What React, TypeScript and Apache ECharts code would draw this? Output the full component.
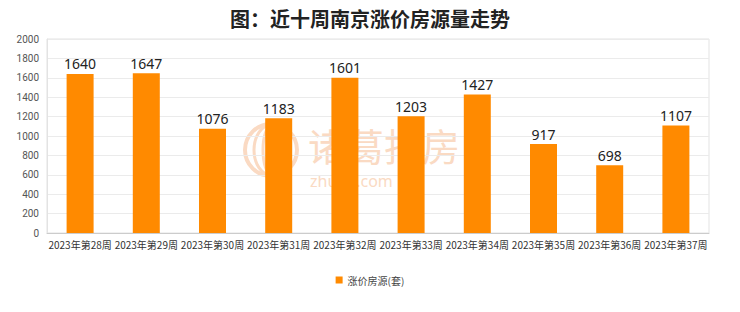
import React, { useEffect, useRef } from "react";
import * as echarts from "echarts";

const categories = [
  "2023年第28周", "2023年第29周", "2023年第30周", "2023年第31周", "2023年第32周",
  "2023年第33周", "2023年第34周", "2023年第35周", "2023年第36周", "2023年第37周",
];
const values = [1640, 1647, 1076, 1183, 1601, 1203, 1427, 917, 698, 1107];
const seriesName = "涨价房源(套)";
const titleText = "图：近十周南京涨价房源量走势";

export default function App() {
  const ref = useRef<HTMLDivElement>(null);
  useEffect(() => {
    if (!ref.current) return;
    const chart = echarts.init(ref.current, undefined, { renderer: "svg" });
    const wm = "#fadac3";
    chart.setOption({
      animation: false,
      backgroundColor: "#fff",
      title: {
        text: titleText,
        left: "center",
        top: 3,
        textStyle: { fontSize: 20, fontWeight: "bold", color: "#222", fontFamily: "Noto Sans CJK SC" },
      },
      grid: {
        left: 47, right: 31, top: 39, bottom: 79,
        show: true, borderColor: "#e3e3e3", borderWidth: 1,
      },
      legend: {
        bottom: 22,
        left: "center",
        itemWidth: 7,
        itemHeight: 7,
        icon: "rect",
        itemGap: 10,
        textStyle: { fontSize: 10, color: "#444", fontFamily: "Noto Sans CJK SC" },
        data: [seriesName],
      },
      graphic: [
        {
          type: "group",
          z: 0,
          silent: true,
          children: [
            { type: "ellipse", shape: { cx: 271, cy: 150, rx: 26, ry: 26 }, style: { fill: "none", stroke: wm, lineWidth: 4 } },
            { type: "ellipse", shape: { cx: 271, cy: 150, rx: 17, ry: 25 }, style: { fill: "none", stroke: wm, lineWidth: 3 } },
            { type: "ellipse", shape: { cx: 271, cy: 150, rx: 8, ry: 24 }, style: { fill: "none", stroke: wm, lineWidth: 3 } },
            { type: "text", x: 308, y: 125, style: { text: "诸葛找房", fontSize: 38, lineHeight: 38, fill: wm, fontFamily: "Noto Sans CJK SC", letterSpacing: 10 } },
            { type: "text", x: 310, y: 173, style: { text: "zhuge.com", fontSize: 16, lineHeight: 16, fill: wm, fontFamily: "Noto Sans", letterSpacing: 12 } },
          ],
        },
      ],
      xAxis: {
        type: "category",
        data: categories,
        axisLine: { lineStyle: { color: "#ccc" } },
        axisTick: { show: false },
        axisLabel: { fontSize: 10, color: "#333", margin: 6, interval: 0, fontFamily: "Noto Sans CJK SC" },
      },
      yAxis: {
        type: "value",
        min: 0,
        max: 2000,
        interval: 200,
        axisLine: { show: true, lineStyle: { color: "#e3e3e3" } },
        axisTick: { show: false },
        axisLabel: { fontSize: 10, color: "#555", margin: 8, fontFamily: "Roboto", formatter: (v: number) => String(v) },
        splitLine: { lineStyle: { color: "#ebebeb" } },
      },
      series: [
        {
          name: seriesName,
          type: "bar",
          data: values,
          barWidth: 27,
          z: 3,
          itemStyle: { color: "#ff8a00" },
          label: {
            show: true,
            position: "top",
            distance: 3,
            fontSize: 14,
            color: "#222",
            fontFamily: "Noto Sans",
          },
        },
      ],
    });
    return () => chart.dispose();
  }, []);
  return <div ref={ref} style={{ position: "absolute", left: 0, top: 0, width: 740, height: 312 }} />;
}
